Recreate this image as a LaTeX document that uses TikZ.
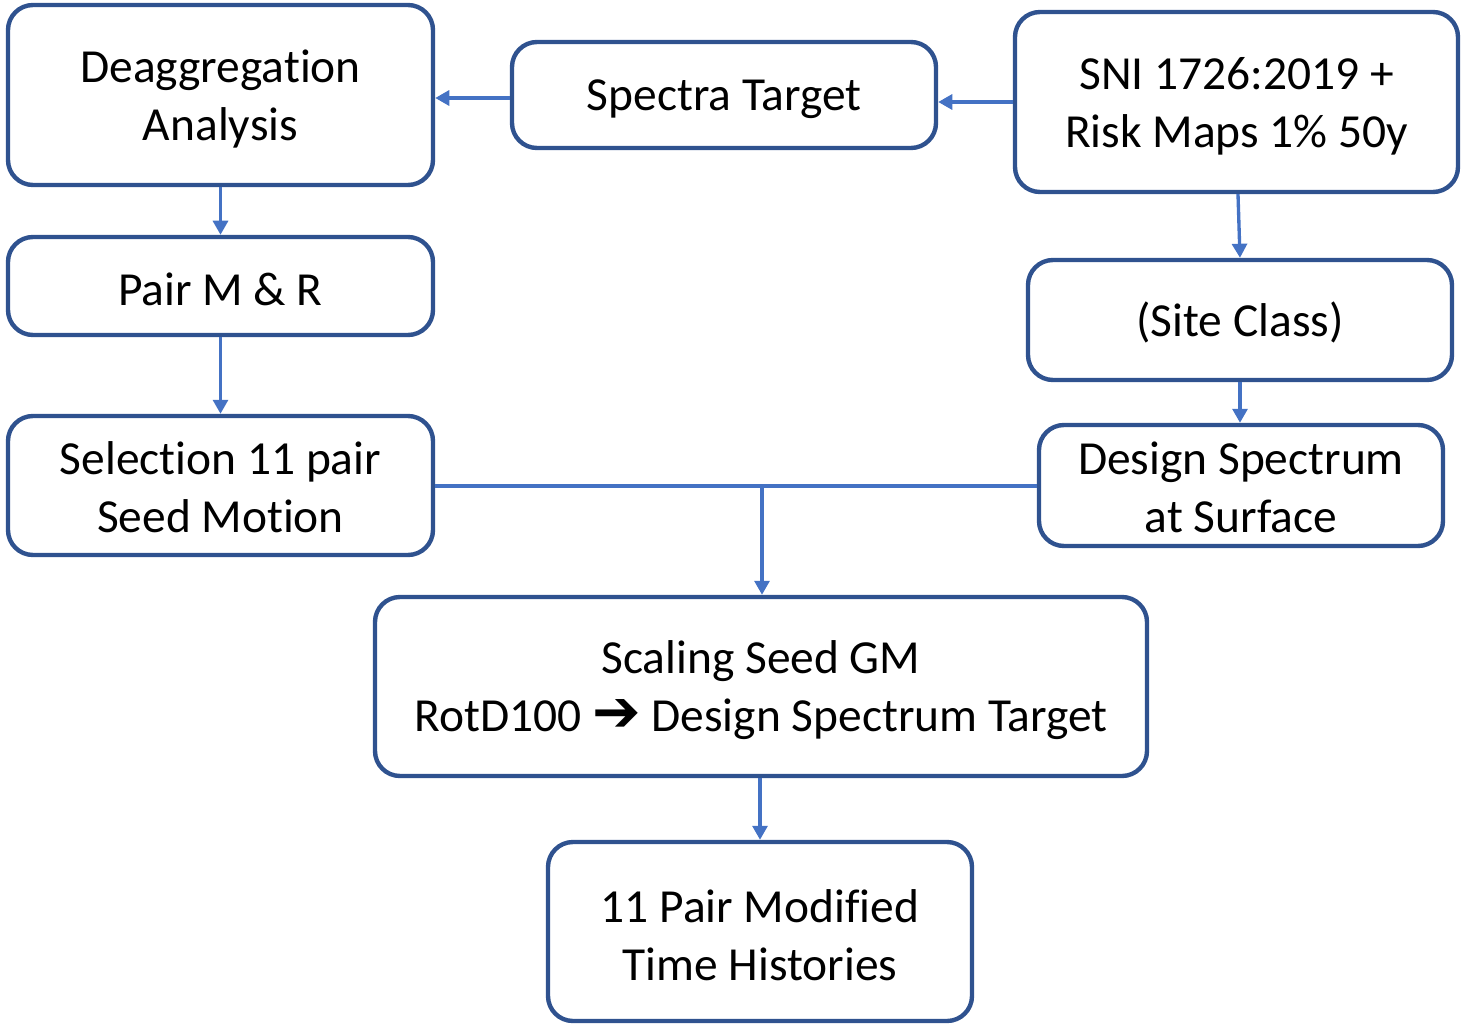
\documentclass[tikz,border=0pt]{standalone}
\usepackage{fontspec}
\setmainfont{Carlito}[Ligatures=NoCommon]
\newfontfamily\symfont{DejaVu Sans}
\usetikzlibrary{arrows.meta}
\definecolor{boxblue}{HTML}{2F528F}
\definecolor{lineblue}{HTML}{4472C4}
\tikzset{
  flowbox/.style={draw=boxblue, line width=2.5pt, rounded corners=0.5cm, inner sep=0pt},
  txt/.style={inner sep=0pt, align=center, font=\fontsize{27}{33}\selectfont, text=black},
  conn/.style={draw=lineblue, line width=1.9pt, -{Triangle[length=8pt,width=8.5pt]}},
  plain/.style={draw=lineblue, line width=1.9pt}
}
\begin{document}
\begin{tikzpicture}[x=0.02cm,y=-0.02cm]
\useasboundingbox (0,0) rectangle (1461,1024);
\node[flowbox, minimum width=425*0.02cm, minimum height=180*0.02cm] (deag) at (220.5,95) {};
\node[txt] (deagt) at ([yshift=-0.08cm]deag.center) {Deaggregation\\Analysis};
\node[flowbox, minimum width=424*0.02cm, minimum height=106*0.02cm] (spec) at (724,95) {};
\node[txt] (spect) at ([yshift=-0.08cm]spec.center) {Spectra Target};
\node[flowbox, minimum width=443*0.02cm, minimum height=180*0.02cm] (sni) at (1236.5,102) {};
\node[txt] (snit) at ([yshift=-0.08cm]sni.center) {SNI 1726:2019 +\\Risk Maps 1\% 50y};
\node[flowbox, minimum width=425*0.02cm, minimum height=98*0.02cm] (pair) at (220.5,286) {};
\node[txt] (pairt) at ([yshift=-0.06cm]pair.center) {Pair M \& R};
\node[flowbox, minimum width=424*0.02cm, minimum height=120*0.02cm] (site) at (1240,320) {};
\node[txt] (sitet) at ([yshift=-0.04cm]site.center) {(Site Class)};
\node[flowbox, minimum width=425*0.02cm, minimum height=139*0.02cm] (sel) at (220.5,485.5) {};
\node[txt] (selt) at ([yshift=-0.04cm]sel.center) {Selection 11 pair\\Seed Motion};
\node[flowbox, minimum width=404*0.02cm, minimum height=121*0.02cm] (des) at (1241,485.5) {};
\node[txt] (dest) at ([yshift=-0.04cm]des.center) {Design Spectrum\\at Surface};
\node[flowbox, minimum width=772*0.02cm, minimum height=179*0.02cm] (scal) at (761,686.5) {};
\node[txt] (scalt) at ([yshift=-0.08cm]scal.center) {Scaling Seed GM\\RotD100 {\symfont\fontsize{33}{33}\selectfont ➔} Design Spectrum Target};
\node[flowbox, minimum width=424*0.02cm, minimum height=179*0.02cm] (hist) at (760,931.5) {};
\node[txt] (histt) at ([yshift=-0.08cm]hist.center) {11 Pair Modified\\Time Histories};
\coordinate (junc) at (762,486);
\draw[conn] (spec.west |- 0,98) -- (deag.east |- 0,98);
\draw[conn] (sni.west |- 0,102) -- (spec.east |- 0,102);
\draw[conn] (deag.south) -- (pair.north);
\draw[conn] (pair.south) -- (sel.north);
\draw[conn] (sni.south -| 1238,0) -- (site.north);
\draw[conn] (site.south) -- (des.north -| site.south);
\draw[plain] (sel.east |- junc) -- (des.west |- junc);
\draw[conn] (junc) -- (scal.north -| junc);
\draw[conn] (scal.south -| hist.north) -- (hist.north);
\end{tikzpicture}
\end{document}
